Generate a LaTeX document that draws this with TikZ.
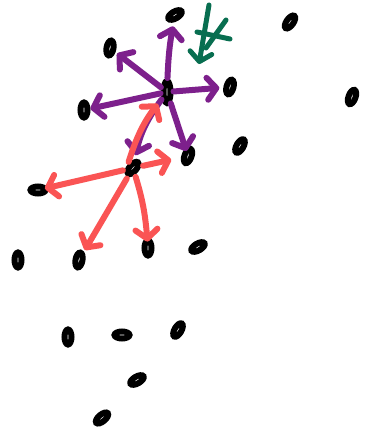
\documentclass[tikz,border=0pt]{standalone}
\usepackage{tikz}
\usetikzlibrary{arrows.meta,shapes.geometric}
\definecolor{sketchpurple}{RGB}{125,32,140}
\definecolor{sketchred}{RGB}{250,84,84}
\definecolor{sketchgreen}{RGB}{8,110,80}
\begin{document}
\begin{tikzpicture}[x=1pt,y=-1pt,>={Straight Barb[length=9pt,width=22pt,round]},
    blob/.style={ellipse,draw,fill=white,line width=6pt,inner sep=0pt,
      minimum width=7pt,minimum height=15pt},
    parrow/.style={->,sketchpurple,line width=6pt,line cap=round},
    rarrow/.style={->,sketchred,line width=6pt,line cap=round,shorten <=2pt}]
  \fill[white] (0,0) rectangle (366,430);
  \useasboundingbox (0,0) rectangle (366,430);
  \foreach \n/\x/\y/\r in {d01/175/15/-60,d02/290/22/-35,d03/110/48/-10,
      d04/230/87/-15,d05/352/97/-20,d06/84/110/0,d07/240/146/-30,
      d08/188/156/-20,rc/133/168/-40,d09/38/190/90,d10/18/260/0,
      d11/79/260/-10,d12/148/248/0,d13/198/247/-60,d14/68/337/0,
      d15/122/335/90,d16/178/330/-30,d17/137/380/-60,d18/102/418/-50} {
    \node[blob,rotate=\r] (\n) at (\x,\y) {};
  }
  \node[blob,minimum height=22pt] (pc) at (167,92) {};
  \draw[parrow,shorten >=4pt] (pc) to[bend left=4] (d01);
  \draw[parrow,shorten >=2pt] (pc) -- (d03);
  \draw[parrow,shorten >=0pt] (pc) -- (d06);
  \draw[parrow,shorten >=4pt] (pc) -- (d04);
  \draw[parrow,shorten >=4pt] (pc) to[bend right=12] (rc);
  \draw[parrow,shorten >=-3pt] (pc) -- (d08);
  \draw[rarrow,shorten >=6pt] (rc.west) to[bend left=10] (pc);
  \draw[rarrow,shorten >=-3pt] (rc) -- (d09);
  \draw[rarrow,shorten >=2pt] (rc) -- (d11);
  \draw[rarrow,shorten >=-4pt] (rc) to[bend left=6] (d12);
  \draw[rarrow,shorten >=10pt] (rc) -- (d08);
  \coordinate (g1) at (209,5);
  \coordinate (g2) at (199,64);
  \coordinate (g3) at (197,32);
  \coordinate (g4) at (230,39);
  \coordinate (g5) at (226,20);
  \coordinate (g6) at (206,48);
  \draw[->,sketchgreen,line width=5pt,line cap=round] (g1) -- (g2);
  \draw[sketchgreen,line width=5pt,line cap=round] (g3) -- (g4);
  \draw[sketchgreen,line width=5pt,line cap=round] (g5) -- (g6);
\end{tikzpicture}
\end{document}
